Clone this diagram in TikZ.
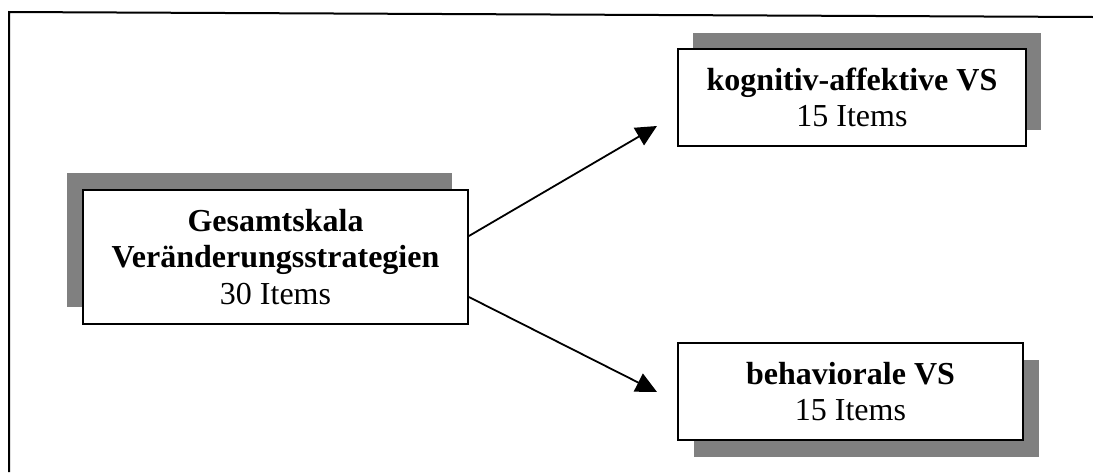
\documentclass[tikz,border=0pt]{standalone}
\usepackage{fontspec}
\setmainfont{Liberation Serif}
\usetikzlibrary{arrows.meta,shadows}
\definecolor{shadowgray}{RGB}{128,128,128}
\begin{document}
\begin{tikzpicture}[x=1pt,y=-1pt,
  boxnode/.style={draw=black, line width=1.8pt, fill=white, align=center,
    inner sep=0pt, font=\fontsize{32}{36.5}\selectfont},
  arrowline/.style={line width=1.8pt, -{Triangle[length=21pt,width=20pt]}, draw=black, fill=black!85},
  framel/.style={line width=2pt}]
\useasboundingbox (0,0) rectangle (1093,472);
\draw[framel] (9,472) -- (9,12) -- (1093,17);
\node[boxnode, minimum width=385pt, minimum height=134pt,
  drop shadow={shadow xshift=-16pt, shadow yshift=17pt, fill=shadowgray, opacity=1}]
  (main) at (275.5,257) {\textbf{Gesamtskala}\\\textbf{Veränderungsstrategien}\\30 Items};
\node[boxnode, minimum width=348pt, minimum height=97pt,
  drop shadow={shadow xshift=15pt, shadow yshift=16pt, fill=shadowgray, opacity=1}]
  (top) at (852,97.5) {\textbf{kognitiv-affektive VS}\\15 Items};
\node[boxnode, minimum width=345pt, minimum height=97pt,
  drop shadow={shadow xshift=16pt, shadow yshift=-17pt, fill=shadowgray, opacity=1}]
  (bot) at (850.5,391.5) {\textbf{behaviorale VS}\\15 Items};
\coordinate (tiptop) at (657,126);
\coordinate (tipbot) at (657,392);
\draw[arrowline] ([yshift=21pt]main.east) -- (tiptop);
\draw[arrowline] ([yshift=-40pt]main.east) -- (tipbot);
\end{tikzpicture}
\end{document}
